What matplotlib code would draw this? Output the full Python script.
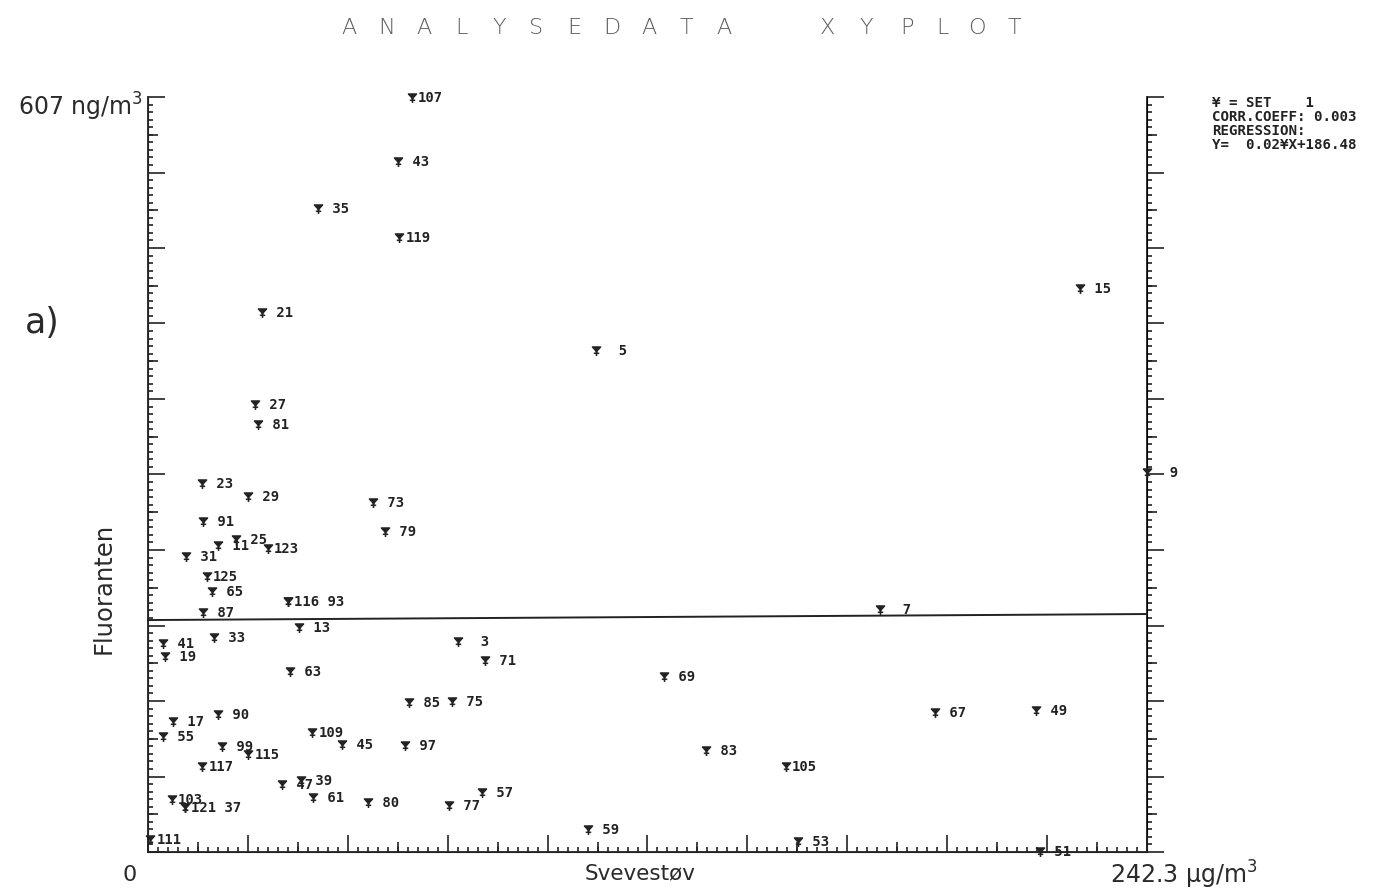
import numpy as np
import matplotlib.pyplot as plt
from matplotlib.path import Path
from matplotlib.ticker import MultipleLocator, NullFormatter

# Prøvenummer, svevestøv (ug/m3) og fluoranten (ng/m3) lest av plottet
point_id = [107, 43, 35, 119, 15, 21, 5, 27, 81, 9,
            23, 29, 73, 91, 79, 11, 25, 123, 31, 125,
            65, 116, 93, 87, 13, 33, 41, 19, 63, 3,
            71, 69, 7, 17, 90, 85, 75, 67, 49, 55,
            109, 45, 97, 83, 99, 115, 117, 105, 47, 39,
            61, 57, 103, 121, 37, 80, 77, 59, 53, 111, 51]
svevestov = [64.0, 60.6, 41.2, 60.9, 226.0, 27.6, 108.7, 25.9, 26.7, 242.3,
             13.1, 24.3, 54.6, 13.3, 57.5, 17.0, 21.3, 29.1, 9.2, 14.3,
             15.5, 34.0, 34.0, 13.3, 36.6, 16.0, 3.6, 4.1, 34.4, 75.2,
             81.7, 125.1, 177.5, 6.1, 17.0, 63.3, 73.7, 190.9, 215.4, 3.6,
             39.8, 47.1, 62.3, 135.3, 17.9, 24.3, 13.1, 154.7, 32.5, 37.1,
             40.0, 81.0, 5.8, 9.0, 9.0, 53.4, 73.0, 106.7, 157.6, 0.5, 216.3]
fluoranten = [606.2, 554.7, 517.0, 493.6, 452.6, 433.3, 402.8, 359.4, 343.3, 304.7,
              295.9, 285.4, 280.6, 265.3, 257.3, 246.0, 250.8, 243.6, 237.2, 221.1,
              209.0, 201.0, 201.0, 192.1, 180.1, 172.0, 167.2, 156.8, 144.7, 168.8,
              153.6, 140.7, 194.6, 104.5, 110.1, 119.8, 120.6, 111.8, 113.4, 92.5,
              95.7, 86.0, 85.2, 81.2, 84.4, 78.0, 68.3, 68.3, 53.9, 57.1,
              43.4, 47.4, 41.8, 35.4, 35.4, 39.4, 37.0, 17.7, 8.0, 9.6, 0.0]

# Regresjon fra plottet
slope = 0.02
intercept = 186.48
x_max = 242.3
y_max = 607

ink = '#222222'
mono = 'DejaVu Sans Mono'

fig = plt.figure(figsize=(13.89, 8.92), dpi=100)
ax = fig.add_axes([148 / 1389, 40 / 892, 999 / 1389, 755 / 892])
ax.set_xlim(0, x_max)
ax.set_ylim(0, y_max)

ax.spines['top'].set_visible(False)
ax.spines['right'].set_visible(False)
for s in ['left', 'bottom']:
    ax.spines[s].set_color(ink)
    ax.spines[s].set_linewidth(1.3)

dx = x_max / 10
dy = y_max / 10
ax.xaxis.set_major_locator(MultipleLocator(dx))
ax.xaxis.set_minor_locator(MultipleLocator(dx / 10))
ax.yaxis.set_major_locator(MultipleLocator(dy))
ax.yaxis.set_minor_locator(MultipleLocator(dy / 10))
ax.xaxis.set_major_formatter(NullFormatter())
ax.yaxis.set_major_formatter(NullFormatter())
ax.tick_params(which='both', direction='in', color=ink, width=1.2)
ax.tick_params(which='major', length=12.5)
ax.tick_params(which='minor', length=3.5)

# mellomstore streker
sec_b = ax.secondary_xaxis('bottom')
sec_b.set_xticks(np.arange(dx / 2, x_max, dx))
sec_b.xaxis.set_major_formatter(NullFormatter())
sec_b.tick_params(direction='in', length=7, width=1.2, color=ink)
sec_b.spines['bottom'].set_color(ink)

sec_l = ax.secondary_yaxis('left')
sec_l.set_yticks(np.arange(dy / 2, y_max, dy))
sec_l.yaxis.set_major_formatter(NullFormatter())
sec_l.tick_params(direction='in', length=7, width=1.2, color=ink)
sec_l.spines['left'].set_color(ink)

# høyre akse med streker utover
right = ax.secondary_yaxis('right')
right.yaxis.set_major_locator(MultipleLocator(dy))
right.yaxis.set_minor_locator(MultipleLocator(dy / 10))
right.yaxis.set_major_formatter(NullFormatter())
right.tick_params(which='both', direction='out', color=ink, width=1.2)
right.tick_params(which='major', length=12.5)
right.tick_params(which='minor', length=3.5)
right.spines['right'].set_color(ink)
right.spines['right'].set_linewidth(1.3)

right_mid = ax.secondary_yaxis('right')
right_mid.set_yticks(np.arange(dy / 2, y_max, dy))
right_mid.yaxis.set_major_formatter(NullFormatter())
right_mid.tick_params(direction='out', length=7, width=1.2, color=ink)

# regresjonslinje
xs = np.array([0, x_max])
ax.plot(xs, slope * xs + intercept, color=ink, lw=1.4, clip_on=False)

# plottersymbol: trekant med stilk og tverrstrek
sym = Path([(-0.45, 0.5), (0.45, 0.5), (0, 0.0), (-0.45, 0.5),
            (0, 0.5), (0, -0.5),
            (-0.3, -0.2), (0.3, -0.2)],
           [Path.MOVETO, Path.LINETO, Path.LINETO, Path.CLOSEPOLY,
            Path.MOVETO, Path.LINETO,
            Path.MOVETO, Path.LINETO])

ax.scatter(svevestov, fluoranten, marker=sym, s=42, facecolor=ink, edgecolor=ink,
           linewidths=1.1, clip_on=False, zorder=3)

groups = {}
for pid, xv, yv in zip(point_id, svevestov, fluoranten):
    groups.setdefault((xv, yv), []).append(pid)
for (xv, yv), ids in groups.items():
    label = f'{ids[0]:>3}' if len(ids) == 1 else ' '.join(str(i) for i in ids)
    ax.annotate(label, (xv, yv), xytext=(4.5, 0), textcoords='offset points',
                fontsize=10, family=mono, weight='bold', color=ink,
                va='center', ha='left', annotation_clip=False)

# tekst i hjørnene
txt = '#2a2a2a'
fig.text(143 / 1389, 1 - 107 / 892, '607 ng/m$^3$', ha='right', va='center', fontsize=17, color=txt)
fig.text(130 / 1389, 1 - 875 / 892, '0', ha='center', va='center', fontsize=16, color=txt)
fig.text(1184 / 1389, 1 - 875 / 892, '242.3 µg/m$^3$', ha='center', va='center', fontsize=17, color=txt)
fig.text(640 / 1389, 1 - 873 / 892, 'Svevestøv', ha='center', va='center', fontsize=15.5, color=txt)
fig.text(104 / 1389, 1 - 588 / 892, 'Fluoranten', ha='center', va='center', rotation=90, fontsize=17.5, color=txt)
fig.text(42 / 1389, 1 - 323 / 892, 'a)', ha='center', va='center', fontsize=25, color=txt)

fig.text(1212 / 1389, 1 - 96 / 892,
         '¥ = SET    1\nCORR.COEFF: 0.003\nREGRESSION:\nY=  0.02¥X+186.48',
         ha='left', va='top', fontsize=10.2, family=mono, weight='bold',
         color=ink, linespacing=1.0)

# tittel med sperret skrift
title_left = 'ANALYSEDATA'
title_right = 'XYPLOT'
title_right_x = [827, 866, 907, 942, 977, 1014]
for i, ch in enumerate(title_left):
    fig.text((349 + i * 37.5) / 1389, 1 - 28 / 892, ch, ha='center', va='center',
             fontsize=16, color='#5a5a5a', weight='light')
for ch, xpos in zip(title_right, title_right_x):
    fig.text(xpos / 1389, 1 - 28 / 892, ch, ha='center', va='center',
             fontsize=16, color='#5a5a5a', weight='light')

plt.savefig('out.png', dpi=100)
